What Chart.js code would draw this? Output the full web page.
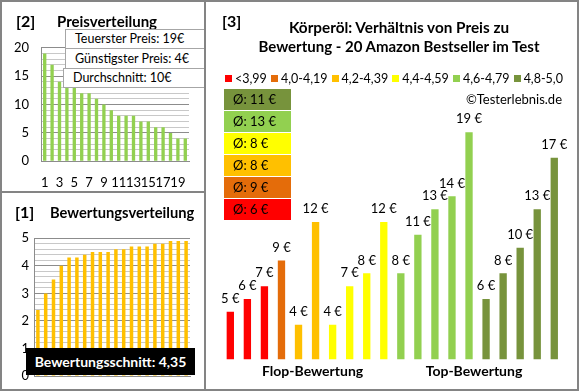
<!DOCTYPE html>
<html>
<head>
<meta charset="utf-8">
<script src="https://cdn.jsdelivr.net/npm/chart.js@4.4.1/dist/chart.umd.min.js"></script>
<style>
body { margin: 0; width: 580px; height: 392px; position: relative; overflow: hidden; background: #fff; font-family: Lato, "Open Sans", sans-serif; color: #000; }
canvas { position: absolute; }
.txt { position: absolute; white-space: nowrap; line-height: 20px; height: 20px; }
.b { font-weight: bold; }
.frame { position: absolute; left: 0; top: 0; width: 579px; height: 391px; box-sizing: border-box; border: 2px solid #848484; z-index: 5; }
.vline { position: absolute; left: 204px; top: 0; width: 2px; height: 391px; background: #848484; z-index: 5; }
.hline { position: absolute; left: 0; top: 191px; width: 205px; height: 2px; background: #848484; z-index: 5; }
.info { position: absolute; background: #fff; border: 1px solid #a6a6a6; box-sizing: border-box; font-size: 12.5px; padding-left: 9px; white-space: nowrap; z-index: 2; }
.avg { position: absolute; left: 224px; width: 67px; height: 21px; line-height: 21px; font-size: 13px; padding-left: 9px; box-sizing: border-box; z-index: 2; }
.legend { position: absolute; left: 225px; top: 69px; width: 338px; height: 18px; display: flex; justify-content: space-between; align-items: center; font-size: 12.5px; }
.legend span.box { display: inline-block; width: 7px; height: 7px; margin-right: 3px; vertical-align: 1px; }
.black { position: absolute; left: 26px; top: 348px; width: 169px; height: 27px; line-height: 27px; background: #000; color: #fff; font-weight: bold; font-size: 14px; text-align: center; z-index: 2; }
</style>
</head>
<body>
<canvas id="preis" width="202" height="189" style="left:2px;top:2px"></canvas>
<canvas id="bewertung" width="202" height="196" style="left:2px;top:193px"></canvas>
<canvas id="verhaeltnis" width="371" height="387" style="left:206px;top:2px"></canvas>

<div class="txt b" style="left:16px;top:11px;font-size:16px">[2]</div>
<div class="txt b" style="left:57px;top:11px;font-size:15px">Preisverteilung</div>
<div class="txt b" style="left:15px;top:202px;font-size:16px">[1]</div>
<div class="txt b" style="left:50px;top:202px;font-size:14.7px">Bewertungsverteilung</div>
<div class="txt b" style="left:222px;top:11px;font-size:16px">[3]</div>
<div class="txt b" style="left:199px;top:17px;width:400px;text-align:center;font-size:15.3px">Körperöl: Verhältnis von Preis zu</div>
<div class="txt b" style="left:199px;top:36px;width:400px;text-align:center;font-size:15px">Bewertung - 20 Amazon Bestseller im Test</div>
<div class="txt" style="left:362px;top:89px;width:200px;text-align:right;font-size:13px">©Testerlebnis.de</div>
<div class="txt b" style="left:262px;top:361px;width:100px;text-align:center;font-size:14px">Flop-Bewertung</div>
<div class="txt b" style="left:424px;top:361px;width:100px;text-align:center;font-size:14px">Top-Bewertung</div>

<div id="legend" class="legend"></div>
<div id="avgBoxes"></div>
<div id="infoBoxes"></div>
<div id="schnitt" class="black"></div>

<div class="frame"></div>
<div class="vline"></div>
<div class="hline"></div>

<script>
// Preisverteilung (sortiert, absteigend)
const rankLabels = ["1","2","3","4","5","6","7","8","9","10","11","12","13","14","15","16","17","18","19","20"];
const sortedPrices = [19, 17, 14, 13, 13, 12, 12, 11, 10, 9, 8, 8, 8, 7, 7, 6, 6, 5, 4, 4];
const priceTicks = [0, 5, 10, 15, 20];

// Bewertungsverteilung (sortiert, aufsteigend)
const sortedRatings = [2.4, 3.0, 3.5, 4.0, 4.3, 4.3, 4.4, 4.5, 4.5, 4.5, 4.6, 4.6, 4.7, 4.7, 4.7, 4.8, 4.8, 4.9, 4.9, 4.9];
const ratingTicks = [0, 1, 2, 3, 4, 5];

// Verhältnis Preis zu Bewertung
const groupLabels = ["<3,99", "4,0-4,19", "4,2-4,39", "4,4-4,59", "4,6-4,79", "4,8-5,0"];
const groupColors = ["#FF0000", "#E46C0A", "#FFC000", "#FFFF00", "#92D050", "#77933C"];
const productPrices = [5, 6, 7, 9, 4, 12, 4, 7, 8, 12, 8, 11, 13, 14, 19, 6, 8, 10, 13, 17];
const productGroup = [0, 0, 0, 1, 2, 2, 3, 3, 3, 3, 4, 4, 4, 4, 4, 5, 5, 5, 5, 5];

Chart.defaults.font.family = "Lato, 'Open Sans', sans-serif";
Chart.defaults.font.size = 13;
Chart.defaults.color = "#000";

const majorGrid = "#8c8c8c";
const minorGrid = "#c8c8c8";

// --- Texte aus den Daten ---
const sum = a => a.reduce((s, v) => s + v, 0);
const avgPrice = Math.round(sum(sortedPrices) / sortedPrices.length);
const infos = [
	["Teuerster Preis: " + Math.max(...sortedPrices) + "€", 65, 29, 140, 20],
	["Günstigster Preis: " + Math.min(...sortedPrices) + "€", 65, 48, 140, 21],
	["Durchschnitt: " + avgPrice + "€", 63, 68, 142, 20],
];
document.getElementById("infoBoxes").innerHTML = infos.map(i =>
	`<div class="info" style="left:${i[1]}px;top:${i[2]}px;width:${i[3]}px;height:${i[4]}px;line-height:${i[4] - 2}px">${i[0]}</div>`
).join("");

const ratingAvg = (sum(sortedRatings) / sortedRatings.length).toFixed(2).replace(".", ",");
document.getElementById("schnitt").textContent = "Bewertungsschnitt: " + ratingAvg;

document.getElementById("legend").innerHTML = groupLabels.map((l, g) =>
	`<span><span class="box" style="background:${groupColors[g]}"></span>${l}</span>`
).join("");

let avgHtml = "";
for (let g = groupLabels.length - 1, row = 0; g >= 0; g--, row++) {
	const ps = productPrices.filter((p, i) => productGroup[i] === g);
	const a = Math.round(sum(ps) / ps.length);
	avgHtml += `<div class="avg" style="top:${89 + row * 22}px;background:${groupColors[g]}">Ø: ${a} €</div>`;
}
document.getElementById("avgBoxes").innerHTML = avgHtml;

// --- [2] Preisverteilung ---
new Chart(document.getElementById("preis"), {
	type: "bar",
	data: {
		labels: rankLabels,
		datasets: [{ data: sortedPrices, backgroundColor: "#92D050", barPercentage: 0.45, categoryPercentage: 1 }],
	},
	options: {
		responsive: false,
		animation: false,
		layout: { padding: { top: 45.7, right: 15, left: 0, bottom: 0 } },
		plugins: { legend: { display: false }, tooltip: { enabled: false } },
		scales: {
			x: {
				grid: { display: false, drawTicks: false },
				border: { color: majorGrid },
				ticks: {
					autoSkip: false, maxRotation: 0, padding: 14,
					callback: (v, i) => (i % 2 === 0 ? rankLabels[i] : ""),
				},
				afterFit: s => { s.height = 29.7; },
			},
			y: {
				min: 0, max: 20,
				grid: { drawTicks: false, color: c => (priceTicks.includes(c.tick.value) ? majorGrid : minorGrid) },
				border: { color: majorGrid },
				ticks: { autoSkip: false, stepSize: 1, padding: 12, callback: v => (priceTicks.includes(v) ? v : "") },
				afterFit: s => { s.width = 39; },
			},
		},
	},
});

// --- [1] Bewertungsverteilung ---
const isInt = v => Math.abs(v - Math.round(v)) < 1e-6;
new Chart(document.getElementById("bewertung"), {
	type: "bar",
	data: {
		labels: rankLabels,
		datasets: [{ data: sortedRatings, backgroundColor: "#FFC000", barPercentage: 0.45, categoryPercentage: 1 }],
	},
	options: {
		responsive: false,
		animation: false,
		layout: { padding: { top: 45.3, right: 14, left: 0, bottom: 0 } },
		plugins: { legend: { display: false }, tooltip: { enabled: false } },
		scales: {
			x: {
				grid: { display: false, drawTicks: false },
				border: { color: majorGrid },
				ticks: { display: false },
				afterFit: s => { s.height = 13; },
			},
			y: {
				min: 0, max: 5,
				grid: { drawTicks: false, color: c => (isInt(c.tick.value) ? majorGrid : minorGrid) },
				border: { color: majorGrid },
				ticks: { autoSkip: false, stepSize: 0.2, padding: 5, callback: v => (isInt(v) && ratingTicks.includes(Math.round(v)) ? Math.round(v) : "") },
				afterFit: s => { s.width = 32; },
			},
		},
	},
});

// --- [3] Preis zu Bewertung ---
const valueLabels = {
	id: "valueLabels",
	afterDatasetsDraw(chart) {
		const ctx = chart.ctx;
		ctx.save();
		ctx.font = "13px Lato, 'Open Sans', sans-serif";
		ctx.fillStyle = "#000";
		ctx.textAlign = "center";
		ctx.textBaseline = "middle";
		chart.getDatasetMeta(0).data.forEach((bar, i) => {
			ctx.fillText(productPrices[i] + " €", bar.x, bar.y - 13);
		});
		ctx.restore();
	},
};

new Chart(document.getElementById("verhaeltnis"), {
	type: "bar",
	data: {
		labels: productPrices.map((p, i) => "P" + (i + 1)),
		datasets: [{
			data: productPrices,
			backgroundColor: productGroup.map(g => groupColors[g]),
			barPercentage: 0.43,
			categoryPercentage: 1,
		}],
	},
	options: {
		responsive: false,
		animation: false,
		layout: { padding: { top: 91.7, right: 14.2, left: 15.8, bottom: 29.7 } },
		plugins: { legend: { display: false }, tooltip: { enabled: false } },
		scales: {
			x: { display: false },
			y: { display: false, min: 1.3, max: 22 },
		},
	},
	plugins: [valueLabels],
});
</script>
</body>
</html>
